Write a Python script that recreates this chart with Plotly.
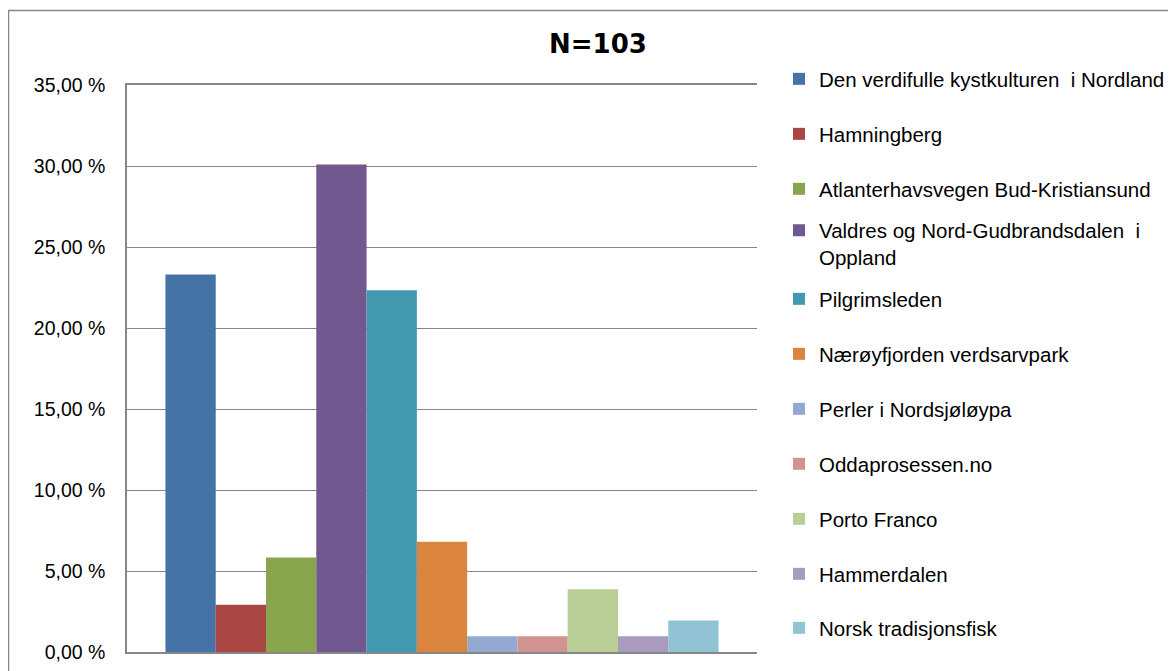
import plotly.graph_objects as go

categories = [""]
series_names = [
    "Den verdifulle kystkulturen  i Nordland",
    "Hamningberg",
    "Atlanterhavsvegen Bud-Kristiansund",
    "Valdres og Nord-Gudbrandsdalen  i<br>Oppland",
    "Pilgrimsleden",
    "Nærøyfjorden verdsarvpark",
    "Perler i Nordsjøløypa",
    "Oddaprosessen.no",
    "Porto Franco",
    "Hammerdalen",
    "Norsk tradisjonsfisk",
]
values = [23.30, 2.91, 5.83, 30.10, 22.33, 6.80, 0.97, 0.97, 3.88, 0.97, 1.94]
colors = ["#4572A7", "#AA4643", "#89A54E", "#71588F", "#4198AF", "#DB843D",
          "#93A9CF", "#D19392", "#B9CD96", "#A99BBD", "#91C3D5"]
tick_vals = [0, 5, 10, 15, 20, 25, 30, 35]
tick_text = ["0,00 %", "5,00 %", "10,00 %", "15,00 %", "20,00 %", "25,00 %", "30,00 %", "35,00 %"]

# page offset of the plot div (body margin)
OFF = 8
legend_rows_px = [p - OFF for p in [79, 134, 189, 244, 299, 354, 409, 464, 519, 574, 628]]

W, H = 1176 - OFF, 671 - OFF
L, R, T, B = 127 - OFF, 757 - OFF, 85 - OFF, 652 - OFF

FONT = "Liberation Sans"

fig = go.Figure()
for i, (name, v, c) in enumerate(zip(series_names, values, colors)):
    lg = "legend" if i == 0 else f"legend{i+1}"
    fig.add_trace(go.Bar(x=categories, y=[v], name=name, marker=dict(color=c, line=dict(width=0)),
                         legend=lg))

layout_legends = {}
for i, py in enumerate(legend_rows_px):
    key = "legend" if i == 0 else f"legend{i+1}"
    layout_legends[key] = dict(
        x=(779 - OFF - L) / (R - L), xanchor="left",
        y=(B - py) / (B - T), yanchor="middle",
        valign="top",
        font=dict(family=FONT, size=20.5, color="#000000"),
        bgcolor="rgba(0,0,0,0)",
        borderwidth=0,
    )

fig.update_layout(
    width=W, height=H,
    margin=dict(l=L, r=W - R, t=T, b=H - B, pad=0, autoexpand=False),
    paper_bgcolor="white", plot_bgcolor="white",
    barmode="group", bargap=0.122, bargroupgap=0,
    title=dict(text="<b>N=103</b>", x=(598 - OFF - L) / (R - L), xref="paper", xanchor="center",
               y=1 - (44 - OFF) / H, yanchor="middle",
               font=dict(family="DejaVu Sans", size=26, color="#000000")),
    xaxis=dict(showticklabels=False, showgrid=False, showline=True, mirror=True,
               linecolor="#868686", linewidth=1.5, zeroline=False, ticks="", automargin=False),
    yaxis=dict(range=[0, 35], tickvals=tick_vals, ticktext=tick_text, showgrid=True,
               gridcolor="#868686", gridwidth=1, showline=True, linecolor="#868686", linewidth=1.5,
               zeroline=False, ticks="", ticklabelstandoff=16, automargin=False,
               tickfont=dict(family=FONT, size=19.5, color="#000000")),
    showlegend=True,
    **layout_legends,
)

# outer chart border
fig.add_shape(type="rect", xref="paper", yref="paper",
              x0=(8.5 - OFF - L) / (R - L), x1=(1200 - L) / (R - L),
              y0=(B - 700) / (B - T), y1=(B - (10.5 - OFF)) / (B - T),
              line=dict(color="#868686", width=1.5), fillcolor="rgba(0,0,0,0)", layer="below")

fig.write_html("out.html")
